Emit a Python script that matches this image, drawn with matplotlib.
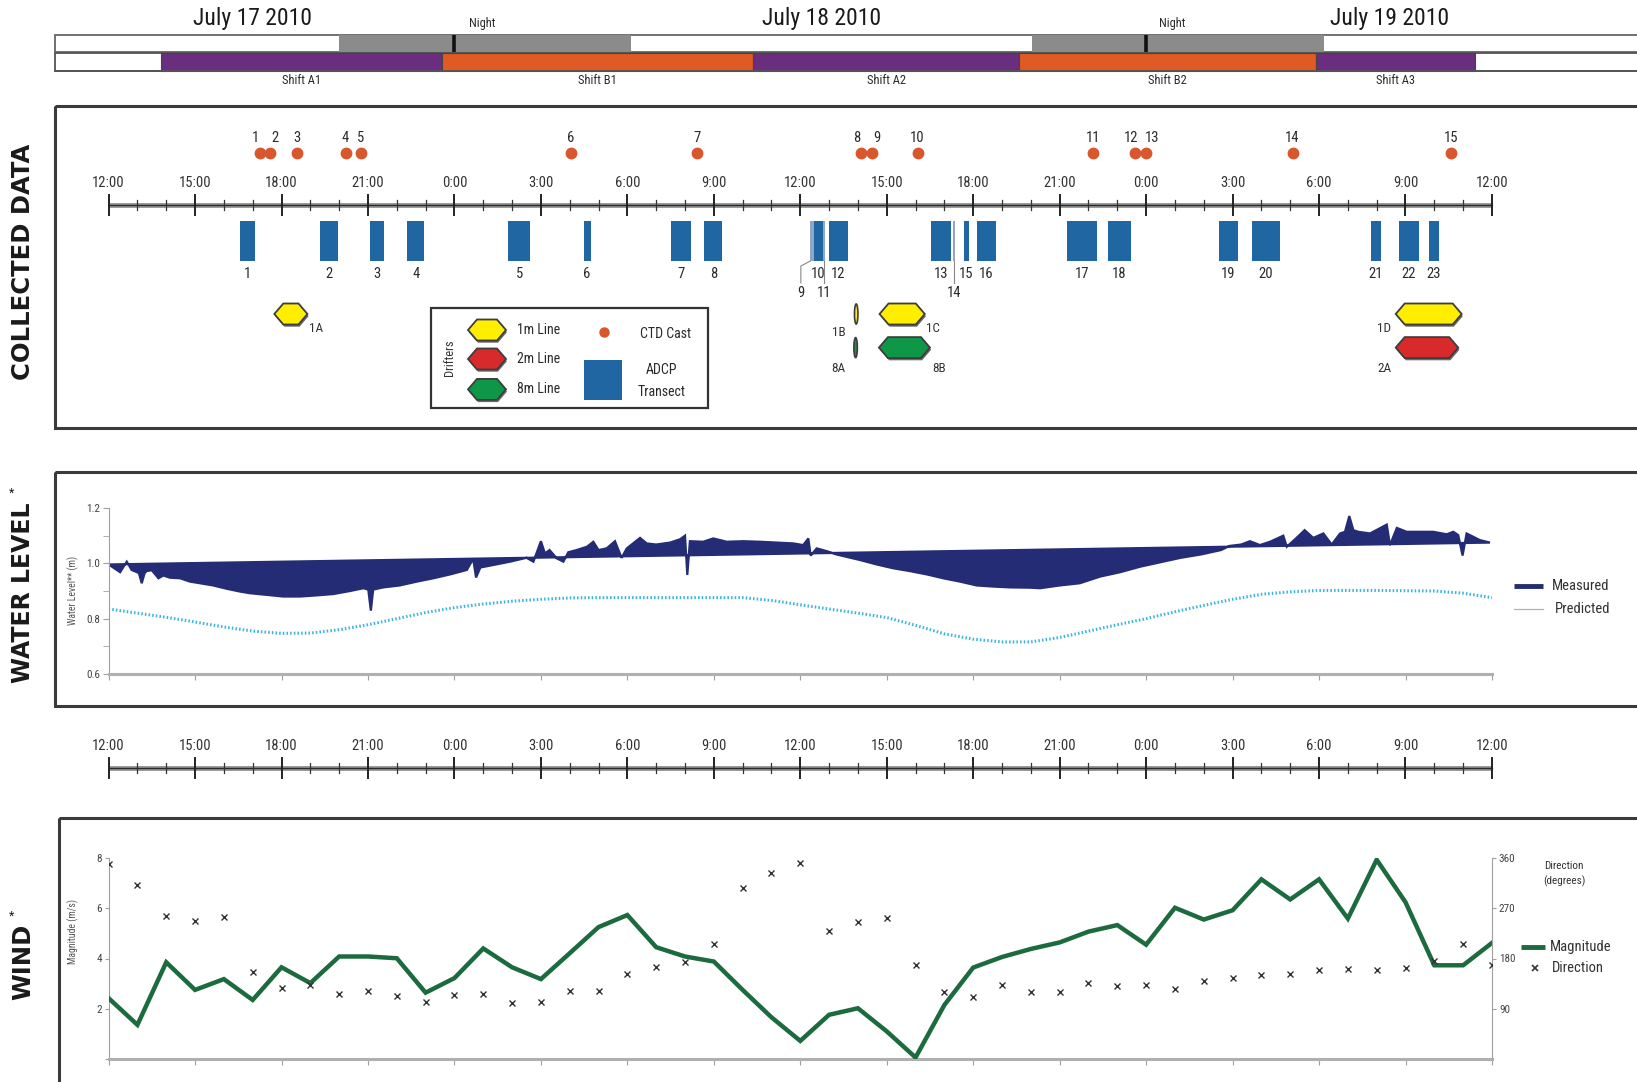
import numpy as np
import matplotlib
matplotlib.use("Agg")
import matplotlib.pyplot as plt
from matplotlib import font_manager
from matplotlib.patches import Rectangle, Polygon, Ellipse

# ------------------------------------------------------------------
# Data (time in hours after 12:00, July 17 2010)
# ------------------------------------------------------------------
time_labels = ["12:00", "15:00", "18:00", "21:00", "0:00", "3:00", "6:00", "9:00",
               "12:00", "15:00", "18:00", "21:00", "0:00", "3:00", "6:00", "9:00", "12:00"]

date_labels = ["July 17 2010", "July 18 2010", "July 19 2010"]
date_label_hours = [5.0, 24.75, 44.45]

night_start = [8.0, 32.04]
night_end = [18.13, 42.17]
night_mid = [12.0, 36.0]
night_label_hours = [12.95, 36.9]

shift_names = ["Shift A1", "Shift B1", "Shift A2", "Shift B2", "Shift A3"]
shift_start = [1.82, 11.57, 22.36, 31.60, 41.90]
shift_end = [11.57, 22.36, 31.60, 41.90, 47.40]
shift_crew = ["A", "B", "A", "B", "A"]

ctd_ids = list(range(1, 16))
ctd_hours = [5.24, 5.59, 6.55, 8.22, 8.75, 16.03, 20.42, 26.12, 26.48, 28.07,
             34.15, 35.63, 36.01, 41.08, 46.59]

adcp_ids = list(range(1, 24))
adcp_start = [4.57, 7.35, 9.06, 10.36, 13.87, 16.48, 19.53, 20.67, 24.32, 24.46,
              24.80, 25.00, 28.55, 29.29, 29.67, 30.13, 33.27, 34.66, 38.52, 39.66,
              43.79, 44.77, 45.80]
adcp_end = [5.08, 7.95, 9.55, 10.96, 14.63, 16.73, 20.20, 21.30, 24.46, 24.78,
            24.86, 25.65, 29.23, 29.37, 29.84, 30.78, 34.28, 35.49, 39.19, 40.63,
            44.14, 45.47, 46.16]
adcp_partial = [9, 11, 14]

drifter_names = ["1A", "1B", "1C", "1D", "2A", "8A", "8B"]
drifter_line_m = [1, 1, 1, 1, 2, 8, 8]
drifter_start = [5.75, 25.88, 26.75, 44.66, 44.66, 25.86, 26.73]
drifter_end = [6.90, 26.00, 28.32, 46.95, 46.83, 25.98, 28.50]

# measured water level (m)
wl_hours = [0.0, 0.4, 0.63, 0.8, 1.05, 1.15, 1.25, 1.32, 1.5, 1.73, 1.9, 2.13, 2.48, 2.82,
            3.17, 3.63, 4.1, 4.56, 4.9, 5.49, 6.06, 6.64, 7.2, 7.8, 8.38, 8.84, 9.01, 9.1,
            9.18, 9.53, 10.1, 10.7, 11.27, 11.85, 12.43, 12.65, 12.75, 12.9, 13.35, 13.93,
            14.5, 14.74, 15.0, 15.14, 15.3, 15.55, 15.78, 15.95, 16.24, 16.6, 16.82, 17.0,
            17.28, 17.57, 17.8, 17.98, 18.44, 18.67, 19.0, 19.48, 19.83, 20.0, 20.08, 20.17,
            20.63, 20.98, 21.45, 22.02, 22.6, 23.18, 23.76, 24.1, 24.28, 24.36, 24.57, 24.92,
            25.26, 26.07, 26.65, 27.23, 27.8, 28.39, 28.96, 29.54, 30.12, 30.7, 31.28, 31.97,
            32.32, 33.0, 33.7, 34.4, 35.1, 35.8, 36.5, 37.2, 37.9, 38.6, 38.9, 39.3, 39.6,
            39.95, 40.3, 40.76, 40.88, 41.2, 41.5, 41.8, 42.15, 42.44, 42.73, 42.9, 43.05,
            43.19, 43.36, 43.77, 44.35, 44.46, 44.7, 45.04, 45.5, 45.96, 46.43, 46.66, 46.83,
            46.98, 47.12, 47.35, 47.58, 47.93]
wl_measured = [0.996, 0.968, 1.006, 0.976, 0.965, 0.928, 0.965, 0.972, 0.975, 0.946, 0.956,
               0.948, 0.946, 0.934, 0.928, 0.920, 0.908, 0.898, 0.892, 0.886, 0.880, 0.880,
               0.884, 0.889, 0.900, 0.910, 0.905, 0.829, 0.905, 0.913, 0.920, 0.934, 0.946,
               0.960, 0.976, 1.016, 0.949, 0.985, 0.994, 1.006, 1.020, 1.006, 1.080, 1.036,
               1.048, 1.018, 1.006, 1.040, 1.048, 1.060, 1.078, 1.048, 1.054, 1.080, 1.020,
               1.054, 1.092, 1.072, 1.068, 1.075, 1.087, 1.100, 0.958, 1.080, 1.078, 1.090,
               1.078, 1.080, 1.078, 1.075, 1.072, 1.066, 1.090, 1.028, 1.054, 1.044, 1.032,
               1.012, 0.996, 0.982, 0.972, 0.960, 0.946, 0.934, 0.920, 0.916, 0.913, 0.912,
               0.910, 0.920, 0.928, 0.952, 0.968, 0.988, 1.004, 1.020, 1.032, 1.048, 1.063,
               1.068, 1.080, 1.066, 1.078, 1.100, 1.060, 1.090, 1.120, 1.092, 1.108, 1.068,
               1.108, 1.114, 1.171, 1.120, 1.114, 1.108, 1.140, 1.066, 1.128, 1.114, 1.114,
               1.114, 1.105, 1.114, 1.102, 1.028, 1.108, 1.096, 1.084, 1.075]

# predicted tide (m), hourly
wl_pred_hours = list(range(0, 49))
wl_predicted = [0.835, 0.820, 0.805, 0.788, 0.770, 0.755, 0.747, 0.748, 0.760, 0.778,
                0.800, 0.822, 0.840, 0.853, 0.863, 0.870, 0.875, 0.876, 0.876, 0.876,
                0.876, 0.876, 0.876, 0.866, 0.850, 0.835, 0.820, 0.804, 0.776, 0.745,
                0.726, 0.716, 0.716, 0.732, 0.755, 0.778, 0.800, 0.825, 0.848, 0.870,
                0.888, 0.897, 0.902, 0.902, 0.902, 0.901, 0.900, 0.892, 0.876]

# wind, hourly
wind_hours = list(range(0, 49))
wind_magnitude = [2.42, 1.36, 3.85, 2.75, 3.18, 2.35, 3.65, 3.02, 4.08, 4.08, 4.01, 2.64,
                  3.22, 4.40, 3.65, 3.18, 4.21, 5.25, 5.73, 4.45, 4.08, 3.88, 2.75, 1.66,
                  0.72, 1.76, 2.02, 1.10, 0.06, 2.15, 3.64, 4.06, 4.38, 4.64, 5.07, 5.33,
                  4.55, 6.02, 5.55, 5.92, 7.15, 6.35, 7.15, 5.59, 7.93, 6.24, 3.73, 3.73, 4.62]
wind_direction = [350, 311, 257, 248, 255, 156, 127, 132, 117, 121, 113, 102, 115, 117,
                  100, 102, 121, 121, 152, 164, 173, 206, 306, 334, 351, 230, 246, 252,
                  168, 120, 111, 132, 120, 120, 136, 130, 133, 126, 139, 145, 151, 152,
                  160, 162, 160, 163, 176, 206, 168]

# ------------------------------------------------------------------
# Styling
# ------------------------------------------------------------------
def pick_font(names):
    for n in names:
        try:
            font_manager.findfont(n, fallback_to_default=False)
            return n
        except Exception:
            continue
    return "DejaVu Sans"

NARROW = pick_font(["Liberation Sans Narrow", "Roboto Condensed", "Liberation Sans"])
BOLD = "DejaVu Sans"
plt.rcParams["font.family"] = [NARROW, "DejaVu Sans"]

W, H = 1637, 1082
X0 = 108.6          # pixel of 12:00 July 17
PXH = 28.82         # pixels per hour

CREW_COL = {"A": "#6a2e7e", "B": "#e05a24"}
DRIFT_COL = {1: "#ffee00", 2: "#d82a2a", 8: "#0e9747"}
NAVY = "#232c74"
SKY = "#39b5e2"
GREEN = "#1b6b3f"
ADCP_BLUE = "#1f66a3"
CTD_COL = "#d8572c"
FRAME = "#3a3a3a"
TXT = "#2a2a2a"

fig = plt.figure(figsize=(W / 100, H / 100), dpi=100)
fig.patch.set_facecolor("white")


def fy(p):
    """figure fraction from pixel row"""
    return 1 - p / H


# hour-based overlay (x in hours, y in pixels)
ax_h = fig.add_axes([0, 0, 1, 1])
ax_h.set_xlim(-X0 / PXH, (W - X0) / PXH)
ax_h.set_ylim(H, 0)
ax_h.axis("off")
ax_h.patch.set_alpha(0)

# pixel overlay for frames and legends
ax_p = fig.add_axes([0, 0, 1, 1], zorder=5)
ax_p.set_xlim(0, W)
ax_p.set_ylim(H, 0)
ax_p.axis("off")
ax_p.patch.set_alpha(0)

# ---------------- top bars: night and shifts ----------------
ax_h.add_patch(Rectangle((-1.86, 34.5), 70, 17.5, facecolor="white", edgecolor="#666666", lw=1.3))
for s, e in zip(night_start, night_end):
    ax_h.add_patch(Rectangle((s, 34.5), e - s, 17.5, facecolor="#8a8b8a", edgecolor="none"))
for m in night_mid:
    ax_h.plot([m, m], [34.5, 52], color="#111111", lw=2.6, solid_capstyle="butt")
for lab, hx in zip(["Night", "Night"], night_label_hours):
    ax_h.text(hx, 23, lab, ha="center", va="center", fontsize=9, color=TXT)

ax_h.add_patch(Rectangle((-1.86, 53), 70, 18, facecolor="white", edgecolor="#555555", lw=1.3))
for name, s, e, c in zip(shift_names, shift_start, shift_end, shift_crew):
    ax_h.add_patch(Rectangle((s, 53), e - s, 18, facecolor=CREW_COL[c], edgecolor="#444444", lw=0.8))
    ax_h.text((s + e) / 2, 80, name, ha="center", va="center", fontsize=9, color=TXT)
ax_h.plot([-1.86, 60], [71, 71], color="#555555", lw=1.3)

for lab, hx in zip(date_labels, date_label_hours):
    ax_h.text(hx, 19, lab, ha="center", va="center", fontsize=17, color="#1a1a1a")


# ---------------- time axes ----------------
def time_axis(y):
    ax_h.plot([0, 48], [y, y], color="#8e8e8e", lw=3.4, solid_capstyle="butt")
    ax_h.plot([0, 48], [y, y], color="#2a2a2a", lw=0.9)
    for hr in range(0, 49):
        if hr % 3 == 0:
            ax_h.plot([hr, hr], [y - 10, y + 10], color="#222222", lw=1.4)
        else:
            ax_h.plot([hr, hr], [y - 5, y + 5], color="#333333", lw=0.9)
    for hr, lab in zip(range(0, 49, 3), time_labels):
        ax_h.text(hr, y - 22, lab, ha="center", va="center", fontsize=10.5, color="#333333")


time_axis(204.6)
time_axis(768.4)

# ---------------- collected data ----------------
ax_p.add_patch(Rectangle((55, 105.5), 1700, 322.5, facecolor="none", edgecolor=FRAME, lw=2.2))
ax_p.text(23, 262, "COLLECTED DATA", rotation=90, ha="center", va="center",
          fontsize=17.5, fontweight="bold", family=BOLD, color="#1a1a1a")

# CTD casts, labels spread apart where casts are close together
ax_h.plot(ctd_hours, [152.5] * len(ctd_hours), "o", color=CTD_COL, ms=7.5, mec=CTD_COL)
for k, (i, hx) in enumerate(zip(ctd_ids, ctd_hours)):
    lx = hx
    if k + 1 < len(ctd_hours) and ctd_hours[k + 1] - hx < 0.5:
        lx -= 0.15
    if k > 0 and hx - ctd_hours[k - 1] < 0.5:
        lx += 0.18
    ax_h.text(lx, 138, str(i), ha="center", va="center", fontsize=10.5, color=TXT)

# ADCP transects
for i, s, e in zip(adcp_ids, adcp_start, adcp_end):
    col = "#8fa6c6" if i in adcp_partial else ADCP_BLUE
    ax_h.add_patch(Rectangle((s, 221), e - s, 40, facecolor=col, edgecolor="none"))
    cx = (s + e) / 2
    if i in adcp_partial:
        if i == 9:
            lx = s - 0.3
            ax_h.plot([s + 0.03, lx, lx], [261, 266, 283], color="#888888", lw=0.8)
        else:
            lx = cx
            ax_h.plot([cx, cx], [261, 283], color="#888888", lw=0.8)
        ax_h.text(lx, 293, str(i), ha="center", va="center", fontsize=10.5, color=TXT)
    else:
        ax_h.text(cx, 273.5, str(i), ha="center", va="center", fontsize=10.5, color=TXT)


# drifters
def hexagon(ax, x0, x1, yc, h, inset_px, face, shadow=True):
    ins = min(inset_px / PXH, (x1 - x0) / 2)
    pts = [(x0, yc), (x0 + ins, yc - h / 2), (x1 - ins, yc - h / 2), (x1, yc),
           (x1 - ins, yc + h / 2), (x0 + ins, yc + h / 2)]
    if shadow:
        sp = [(x + 0.04, y + 2.2) for x, y in pts]
        ax.add_patch(Polygon(sp, closed=True, facecolor="#6b6b6b", edgecolor="none"))
    ax.add_patch(Polygon(pts, closed=True, facecolor=face, edgecolor="#3d3d3d", lw=1.3))


row_y = {1: 314, 2: 347.6, 8: 347.6}
label_dy = {1: 15, 2: 21, 8: 21}
label_right = {"1A": True, "1C": True, "8B": True}
for name, m, s, e in zip(drifter_names, drifter_line_m, drifter_start, drifter_end):
    yc = row_y[m]
    if e - s < 0.3:
        ax_h.add_patch(Ellipse(((s + e) / 2, yc), e - s, 20, facecolor=DRIFT_COL[m],
                               edgecolor="#3d3d3d", lw=1.2))
    else:
        hexagon(ax_h, s, e, yc, 21, 9, DRIFT_COL[m])
    if label_right.get(name, False):
        ax_h.text(e + 0.3, yc + label_dy[m], name, ha="center", va="center", fontsize=9.5, color="#333333")
    else:
        off = 0.55 if e - s < 0.3 else 0.4
        ax_h.text(s - off, yc + label_dy[m] + (3 if e - s < 0.3 and m == 1 else 0), name,
                  ha="center", va="center", fontsize=9.5, color="#333333")

# legend box
ax_p.add_patch(Rectangle((431, 308), 277, 100, facecolor="white", edgecolor="#333333", lw=1.6))
ax_p.text(449, 358, "Drifters", rotation=90, ha="center", va="center", fontsize=9, color="#333333")
for yy, m, lab in zip([330, 359, 389.4], [1, 2, 8], ["1m Line", "2m Line", "8m Line"]):
    ins = 9
    x0, x1 = 468, 506
    pts = [(x0, yy), (x0 + ins, yy - 10.5), (x1 - ins, yy - 10.5), (x1, yy),
           (x1 - ins, yy + 10.5), (x0 + ins, yy + 10.5)]
    ax_p.add_patch(Polygon([(x + 1, y + 2.2) for x, y in pts], closed=True, facecolor="#6b6b6b", edgecolor="none"))
    ax_p.add_patch(Polygon(pts, closed=True, facecolor=DRIFT_COL[m], edgecolor="#3d3d3d", lw=1.3))
    ax_p.text(517, yy, lab, ha="left", va="center", fontsize=10, color=TXT)
ax_p.plot([603.5], [332], "o", color=CTD_COL, ms=6.5)
ax_p.text(665, 334, "CTD Cast", ha="center", va="center", fontsize=10, color=TXT)
ax_p.add_patch(Rectangle((584, 360), 38, 40, facecolor=ADCP_BLUE, edgecolor="none"))
ax_p.text(662, 370, "ADCP", ha="center", va="center", fontsize=10, color=TXT)
ax_p.text(662, 391.5, "Transect", ha="center", va="center", fontsize=10, color=TXT)

# ---------------- water level ----------------
ax_p.add_patch(Rectangle((55, 472), 1700, 234, facecolor="none", edgecolor=FRAME, lw=2.2))
ax_p.text(23, 593, "WATER LEVEL", rotation=90, ha="center", va="center",
          fontsize=17, fontweight="bold", family=BOLD, color="#1a1a1a")
ax_p.text(12, 493, "*", ha="center", va="center", fontsize=9, color="#1a1a1a")

y_top, y_bot = 508, 674
ax_wl = fig.add_axes([X0 / W, fy(y_bot), 48 * PXH / W, (y_bot - y_top) / H])
ax_wl.patch.set_alpha(0)
ax_wl.set_xlim(0, 48)
ax_wl.set_ylim(0.6, 1.2)
ax_wl.fill(wl_hours, wl_measured, facecolor=NAVY, edgecolor=NAVY, lw=1.6)
ax_wl.plot(wl_pred_hours, wl_predicted, color=SKY, lw=2.2, linestyle=(0, (0.5, 0.7)))
for sp in ["top", "right"]:
    ax_wl.spines[sp].set_visible(False)
ax_wl.spines["left"].set_color("#a0a0a0")
ax_wl.spines["bottom"].set_color("#b0b0b0")
ax_wl.spines["bottom"].set_linewidth(2.2)
ax_wl.set_yticks([0.6, 0.8, 1.0, 1.2])
ax_wl.set_yticklabels(["0.6", "0.8", "1.0", "1.2"])
ax_wl.set_yticks([0.7, 0.9, 1.1], minor=True)
ax_wl.set_xticks(range(0, 49, 3))
ax_wl.set_xticklabels([])
ax_wl.tick_params(axis="y", which="both", length=4, color="#a0a0a0", labelsize=8, labelcolor="#444444", pad=2)
ax_wl.tick_params(axis="x", length=4, color="#a0a0a0")
ax_p.text(73, 590, "Water Level** (m)", rotation=90, ha="center", va="center", fontsize=7, color="#555555")

ax_p.plot([1514, 1543], [585.7, 585.7], color=NAVY, lw=3.5, solid_capstyle="butt")
ax_p.text(1552, 585.7, "Measured", ha="left", va="center", fontsize=10.5, color="#333333")
ax_p.plot([1514, 1543], [608.6, 608.6], color="#a9b4c4", lw=0.9)
ax_p.text(1555, 608.6, "Predicted", ha="left", va="center", fontsize=10.5, color="#333333")

# ---------------- wind ----------------
ax_p.add_patch(Rectangle((58.5, 817.5), 1700, 400, facecolor="none", edgecolor=FRAME, lw=2.2))
ax_p.text(23, 962, "WIND", rotation=90, ha="center", va="center",
          fontsize=17.5, fontweight="bold", family=BOLD, color="#1a1a1a")
ax_p.text(12, 916, "*", ha="center", va="center", fontsize=9, color="#1a1a1a")

y_top, y_bot = 858, 1059
ax_w = fig.add_axes([X0 / W, fy(y_bot), 48 * PXH / W, (y_bot - y_top) / H])
ax_w.patch.set_alpha(0)
ax_w.set_xlim(0, 48)
ax_w.set_ylim(0, 8)
ax_w.plot(wind_hours, wind_magnitude, color=GREEN, lw=3.2, solid_joinstyle="miter", zorder=3)
ax_d = ax_w.twinx()
ax_d.set_ylim(0, 360)
ax_d.plot(wind_hours, wind_direction, "x", color="#333333", ms=5, mew=1.0, zorder=4)

for a in (ax_w, ax_d):
    a.spines["top"].set_visible(False)
    a.set_xlim(0, 48)
ax_w.spines["right"].set_visible(False)
ax_d.spines["left"].set_visible(False)
ax_d.spines["bottom"].set_visible(False)
ax_w.spines["left"].set_color("#a0a0a0")
ax_d.spines["right"].set_color("#a0a0a0")
ax_w.spines["bottom"].set_color("#b0b0b0")
ax_w.spines["bottom"].set_linewidth(2.2)
ax_w.set_yticks([0, 2, 4, 6, 8])
ax_w.set_yticklabels(["", "2", "4", "6", "8"])
ax_d.set_yticks([90, 180, 270, 360])
ax_d.set_yticklabels(["90", "180", "270", "360"])
ax_w.set_xticks(range(0, 49, 3))
ax_w.set_xticklabels([])
ax_w.tick_params(axis="y", length=3, color="#a0a0a0", labelsize=8, labelcolor="#444444", pad=2)
ax_d.tick_params(axis="y", length=3, color="#a0a0a0", labelsize=8, labelcolor="#444444", pad=2)
ax_w.tick_params(axis="x", length=4, color="#a0a0a0")

ax_p.text(73, 931, "Magnitude (m/s)", rotation=90, ha="center", va="center", fontsize=7, color="#555555")
ax_p.text(1564, 874, "Direction\n(degrees)", ha="center", va="center", fontsize=8, color="#333333",
          linespacing=1.6)
ax_p.plot([1521, 1545], [947, 947], color=GREEN, lw=3.5, solid_capstyle="butt")
ax_p.text(1550, 947, "Magnitude", ha="left", va="center", fontsize=10.5, color="#333333")
ax_p.plot([1535], [968], "x", color="#333333", ms=4.5, mew=1.2)
ax_p.text(1552, 968, "Direction", ha="left", va="center", fontsize=10.5, color="#333333")

fig.savefig("out.png", dpi=100, facecolor="white")
